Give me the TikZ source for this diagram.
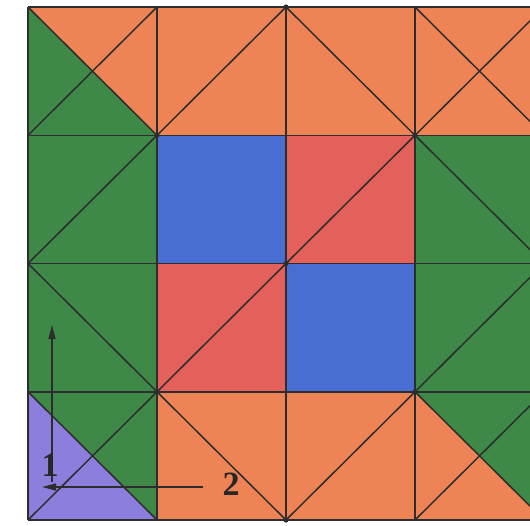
\documentclass[tikz,border=0pt]{standalone}
\usepackage{fontspec}
\setmainfont{Liberation Serif}
\usetikzlibrary{arrows.meta}
\definecolor{cOr}{RGB}{238,132,86}
\definecolor{cGr}{RGB}{62,136,72}
\definecolor{cBl}{RGB}{72,110,210}
\definecolor{cRd}{RGB}{228,96,90}
\definecolor{cPu}{RGB}{140,126,220}
\definecolor{cLn}{RGB}{45,45,45}
\tikzset{
  gridline/.style={draw=cLn, line width=1.5pt},
  axisarrow/.style={draw=cLn, line width=1.4pt, -{Triangle[length=14pt,width=7pt]}},
  lbl/.style={text=black!85, font=\fontsize{34}{34}\selectfont\bfseries, inner sep=0pt},
  vdot/.style={fill=cLn, draw=none}
}
\begin{document}
\begin{tikzpicture}[x=1pt,y=-1pt]
\useasboundingbox (0,0) rectangle (530,525);
\fill[white] (0,0) rectangle (530,525);
\clip (0,0) rectangle (530,525);
\def\Xa{28}\def\Xb{157}\def\Xc{286}\def\Xd{415}\def\Xe{544}
\def\Ya{7}\def\Yb{135.3}\def\Yc{263.5}\def\Yd{391.8}\def\Ye{520}
% fills
\fill[cOr] (\Xa,\Ya) -- (\Xb,\Ya) -- (\Xb,\Yb) -- cycle;
\fill[cGr] (\Xa,\Ya) -- (\Xa,\Yb) -- (\Xb,\Yb) -- cycle;
\fill[cOr] (\Xb,\Ya) rectangle (\Xe,\Yb);
\fill[cGr] (\Xa,\Yb) rectangle (\Xb,\Yc);
\fill[cBl] (\Xb,\Yb) rectangle (\Xc,\Yc);
\fill[cRd] (\Xc,\Yb) rectangle (\Xd,\Yc);
\fill[cGr] (\Xd,\Yb) rectangle (\Xe,\Yc);
\fill[cGr] (\Xa,\Yc) rectangle (\Xb,\Yd);
\fill[cRd] (\Xb,\Yc) rectangle (\Xc,\Yd);
\fill[cBl] (\Xc,\Yc) rectangle (\Xd,\Yd);
\fill[cGr] (\Xd,\Yc) rectangle (\Xe,\Yd);
\fill[cPu] (\Xa,\Yd) -- (\Xa,\Ye) -- (\Xb,\Ye) -- cycle;
\fill[cGr] (\Xa,\Yd) -- (\Xb,\Yd) -- (\Xb,\Ye) -- cycle;
\fill[cOr] (\Xb,\Yd) rectangle (\Xd,\Ye);
\fill[cOr] (\Xd,\Yd) -- (\Xd,\Ye) -- (\Xe,\Ye) -- cycle;
\fill[cGr] (\Xd,\Yd) -- (\Xe,\Yd) -- (\Xe,\Ye) -- cycle;
% grid lines
\foreach \x in {\Xa,\Xb,\Xc,\Xd,\Xe} \draw[gridline] (\x,\Ya) -- (\x,\Ye);
\foreach \y in {\Ya,\Yb,\Yc,\Yd,\Ye} \draw[gridline] (\Xa,\y) -- (\Xe,\y);
% diagonals
\draw[gridline] (\Xa,\Ya) -- (\Xb,\Yb) (\Xb,\Ya) -- (\Xa,\Yb);
\draw[gridline] (\Xb,\Yb) -- (\Xc,\Ya);
\draw[gridline] (\Xc,\Ya) -- (\Xd,\Yb);
\draw[gridline] (\Xd,\Ya) -- (\Xe,\Yb) (\Xd,\Yb) -- (\Xe,\Ya);
\draw[gridline] (\Xa,\Yc) -- (\Xb,\Yb);
\draw[gridline] (\Xc,\Yc) -- (\Xd,\Yb);
\draw[gridline] (\Xd,\Yb) -- (\Xe,\Yc);
\draw[gridline] (\Xa,\Yc) -- (\Xb,\Yd);
\draw[gridline] (\Xb,\Yd) -- (\Xc,\Yc);
\draw[gridline] (\Xd,\Yd) -- (\Xe,\Yc);
\draw[gridline] (\Xa,\Yd) -- (\Xb,\Ye) (\Xa,\Ye) -- (\Xb,\Yd);
\draw[gridline] (\Xb,\Yd) -- (\Xc,\Ye);
\draw[gridline] (\Xc,\Ye) -- (\Xd,\Yd);
\draw[gridline] (\Xd,\Yd) -- (\Xe,\Ye) (\Xd,\Ye) -- (\Xe,\Yd);
% vertex dots
\foreach \p in {(\Xb,\Yb),(\Xc,\Ya),(\Xd,\Yb),(\Xc,\Yc),(\Xb,\Yd),(\Xd,\Yd),(\Xc,\Ye)}
  \fill[vdot] \p circle (2.6);
% axes
\coordinate (vbase) at (52,482);
\coordinate (vtip) at (52,325);
\coordinate (hstart) at (203,487);
\coordinate (htip) at (42,487);
\draw[axisarrow] (vbase) -- (vtip);
\draw[axisarrow] (hstart) -- (htip);
\node[lbl] (one) at (50,465) {1};
\node[lbl] (two) at (231,484) {2};
\end{tikzpicture}
\end{document}
